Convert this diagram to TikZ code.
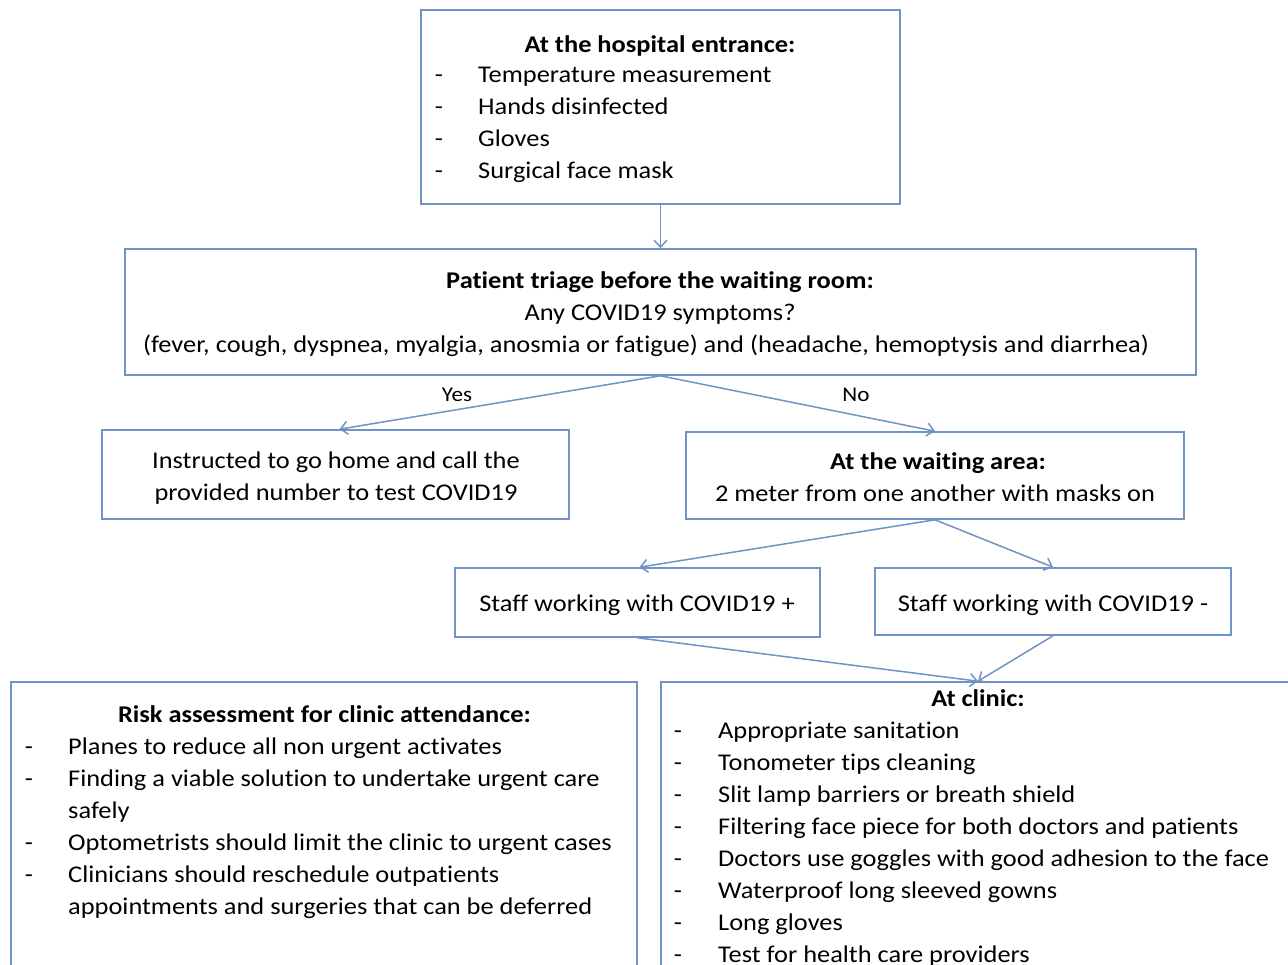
\documentclass[tikz,border=0pt]{standalone}
\usepackage{fontspec}
\setmainfont{Carlito}[FakeStretch=1.1, Ligatures=NoCommon]
\usetikzlibrary{arrows.meta}
\definecolor{bl}{RGB}{112,146,197}
\begin{document}
\begin{tikzpicture}[x=1pt,y=-1pt,
  box/.style={draw=bl, line width=1.6pt, inner sep=0, fill=white},
  txt/.style={font=\fontsize{24}{30}\selectfont, inner sep=0, anchor=base},
  lbl/.style={font=\fontsize{21}{25}\selectfont, inner sep=0, anchor=base},
  lt/.style={txt, anchor=base west},
  arr/.style={draw=bl, line width=1.5pt, -{Straight Barb[length=7pt,width=13pt,line width=1.5pt]}}]
\useasboundingbox (0,0) rectangle (1288,965);
% boxes
\node[box, minimum width=479pt, minimum height=194pt] (entr) at (660.5,107) {};
\node[box, minimum width=1071pt, minimum height=126pt] (tri) at (660.5,312) {};
\node[box, minimum width=467pt, minimum height=89pt] (ins) at (335.5,474.5) {};
\node[box, minimum width=498pt, minimum height=87pt] (wait) at (935,475.5) {};
\node[box, minimum width=365pt, minimum height=69pt] (sp) at (637.5,602.5) {};
\node[box, minimum width=356pt, minimum height=67pt] (sm) at (1053,601.5) {};
\node[box, minimum width=626pt, minimum height=328pt] (risk) at (324,846) {};
\node[box, minimum width=636pt, minimum height=328pt] (clin) at (979,846) {};
% entrance text
\node[txt, font=\fontsize{24}{30}\selectfont\bfseries] (et) at (660,53) {At the hospital entrance:};
\foreach \t [count=\i] in {Temperature measurement, Hands disinfected, Gloves, Surgical face mask}{
  \node[txt] (ed\i) at (439,83+32*\i-32) {-};
  \node[lt] (el\i) at (478,83+32*\i-32) {\t};
}
% triage text
\node[txt, font=\fontsize{24}{30}\selectfont\bfseries] (tt) at (660,289) {Patient triage before the waiting room:};
\node[txt] (t2) at (660,321) {Any COVID19 symptoms?};
\node[txt] (t3) at (646,353) {(fever, cough, dyspnea, myalgia, anosmia or fatigue) and (headache, hemoptysis and diarrhea)};
% instructed
\node[txt] (i1) at (336,468) {Instructed to go home and call the};
\node[txt] (i2) at (336,500) {provided number to test COVID19};
% waiting
\node[txt, font=\fontsize{24}{30}\selectfont\bfseries] (w1) at (938,469) {At the waiting area:};
\node[txt] (w2) at (935,501) {2 meter from one another with masks on};
% staff
\node[txt] (spt) at (637,611) {Staff working with COVID19 +};
\node[txt] (smt) at (1053,611) {Staff working with COVID19 -};
% risk
\node[txt, font=\fontsize{24}{30}\selectfont\bfseries] (rt) at (324.5,722) {Risk assessment for clinic attendance:};
\foreach \t/\y [count=\i] in {Planes to reduce all non urgent activates/754, Finding a viable solution to undertake urgent care/786, Optometrists should limit the clinic to urgent cases/850, Clinicians should reschedule outpatients/882}{
  \node[txt] (rd\i) at (29,\y) {-};
  \node[lt] (rl\i) at (68,\y) {\t};
}
\node[lt] (rl5) at (68,818) {safely};
\node[lt] (rl6) at (68,914) {appointments and surgeries that can be deferred};
% clinic
\node[txt, font=\fontsize{24}{30}\selectfont\bfseries] (ct) at (978,706) {At clinic:};
\foreach \t [count=\i] in {Appropriate sanitation, Tonometer tips cleaning, Slit lamp barriers or breath shield, Filtering face piece for both doctors and patients, Doctors use goggles with good adhesion to the face, Waterproof long sleeved gowns, Long gloves, Test for health care providers}{
  \node[txt] (cd\i) at (678,738+32*\i-32) {-};
  \node[lt] (cl\i) at (718,738+32*\i-32) {\t};
}
% connectors
\draw[arr] (entr.south) -- (tri.north);
\draw[arr] (tri.south) -- ([xshift=4pt]ins.north);
\draw[arr] (tri.south) -- (wait.north);
\node[lbl] (yes) at (457,402) {Yes};
\node[lbl] (no) at (856,402) {No};
\draw[arr] (wait.south) -- ([xshift=2pt]sp.north);
\draw[arr] (wait.south) -- (sm.north);
\draw[arr] (sp.south) -- ([xshift=-1pt]clin.north);
\draw[arr] (sm.south) -- ([xshift=-1pt]clin.north);
\end{tikzpicture}
\end{document}
